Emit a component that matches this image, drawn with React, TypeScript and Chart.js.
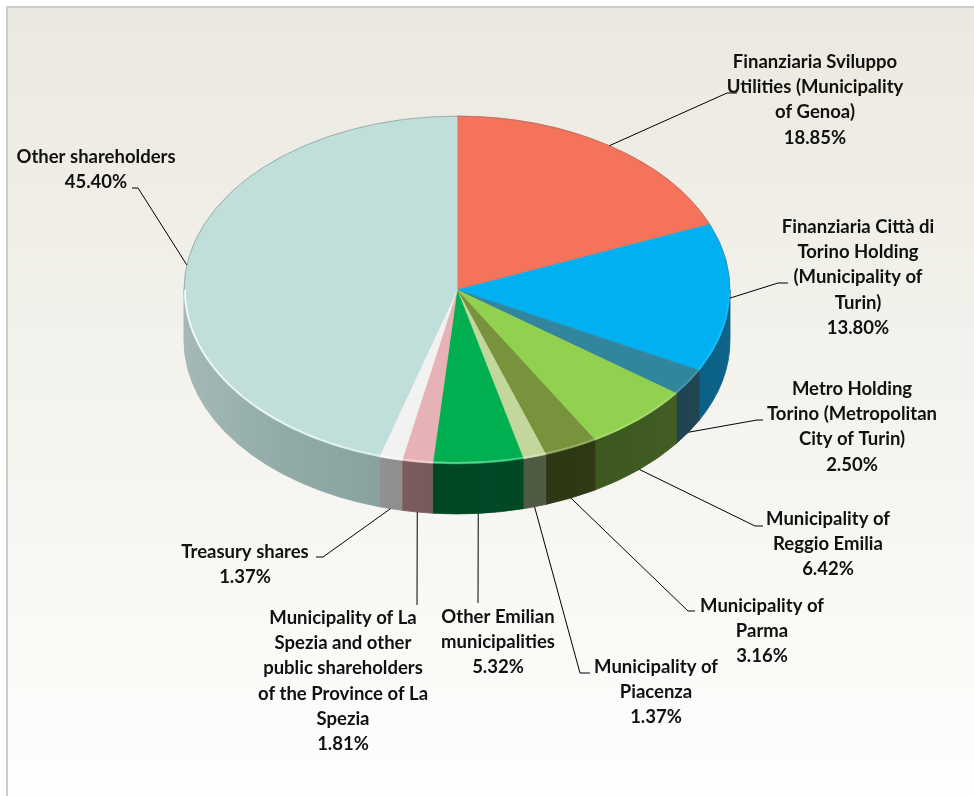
import React, { useEffect, useRef } from "react";
import { Chart, registerables } from "chart.js";

Chart.register(...registerables);

// ---------- data ----------
const categories: string[] = [
  "Finanziaria Sviluppo Utilities (Municipality of Genoa)",
  "Finanziaria Città di Torino Holding (Municipality of Turin)",
  "Metro Holding Torino (Metropolitan City of Turin)",
  "Municipality of Reggio Emilia",
  "Municipality of Parma",
  "Municipality of Piacenza",
  "Other Emilian municipalities",
  "Municipality of La Spezia and other public shareholders of the Province of La Spezia",
  "Treasury shares",
  "Other shareholders",
];

const shares: number[] = [18.85, 13.8, 2.5, 6.42, 3.16, 1.37, 5.32, 1.81, 1.37, 45.4];

// wrapped label text (as in the reference)
const labelLines: string[][] = [
  ["Finanziaria Sviluppo", "Utilities (Municipality", "of Genoa)"],
  ["Finanziaria Città di", "Torino Holding", "(Municipality of", "Turin)"],
  ["Metro Holding", "Torino (Metropolitan", "City of Turin)"],
  ["Municipality of", "Reggio Emilia"],
  ["Municipality of", "Parma"],
  ["Municipality of", "Piacenza"],
  ["Other Emilian", "municipalities"],
  ["Municipality of La", "Spezia and other", "public shareholders", "of the Province of La", "Spezia"],
  ["Treasury shares"],
  ["Other shareholders"],
];

// ---------- styles / layout ----------
const topColors = [
  "#F5735B", "#00B0F0", "#31859C", "#92D050", "#77933C",
  "#C3D69B", "#00B050", "#E6B2B6", "#F2F2F2", "#C0DFDA",
];
const sideColors = [
  "#A04A3A", "#005A82", "#183E4C", "#3E5B1F", "#2F3A16",
  "#545F46", "#004D27", "#816062", "#959595", "#8BA6A3",
];

const labelCenterX = [807, 850, 844, 820, 754, 648, 490, 335, 237, 88];
const labelFirstY = [54, 219, 381, 511, 598, 659, 609, 610, 544, 149];
const elbowX = [719, 770, 749, 747, 680, 572, 470, 409, 315, 130];
const elbowY = [85, 275, 412, 518, 603, 665, 595, 597, 549, 180];
const stubX = [729, 780, 755, 755, 687, 582, 470, 409, 308, 124];

const TILT = 0.637;
const DEPTH = 50;
const LINE_H = 25.2;
const FONT = "bold 18.5px Lato";

const pie3d = {
  id: "pie3d",
  beforeDraw(chart: any) {
    const { ctx, width, height } = chart;
    const g = ctx.createLinearGradient(0, 0, 0, height);
    g.addColorStop(0, "#EBE9DF");
    g.addColorStop(0.5, "#F4F3EE");
    g.addColorStop(1, "#FEFEFD");
    ctx.save();
    ctx.fillStyle = g;
    ctx.fillRect(0, 0, width, height);
    ctx.restore();
  },
  beforeDatasetsDraw(chart: any) {
    const ctx = chart.ctx;
    const arcs = chart.getDatasetMeta(0).data as any[];
    if (!arcs.length) return;
    const { x: cx, y: cy, outerRadius: r } = arcs[0].getProps(["x", "y", "outerRadius"], true);
    const ry = r * TILT;
    ctx.save();
    arcs.forEach((arc, i) => {
      const { startAngle, endAngle } = arc.getProps(["startAngle", "endAngle"], true);
      const a1 = Math.max(startAngle, 0);
      const a2 = Math.min(endAngle, Math.PI);
      if (a2 <= a1) return;
      ctx.beginPath();
      ctx.ellipse(cx, cy, r, ry, 0, a1, a2, false);
      ctx.ellipse(cx, cy + DEPTH, r, ry, 0, a2, a1, true);
      ctx.closePath();
      ctx.fillStyle = sideColors[i];
      ctx.fill();
      ctx.strokeStyle = sideColors[i];
      ctx.lineWidth = 0.8;
      ctx.stroke();
    });
    // lighting overlay on the side wall
    ctx.beginPath();
    ctx.ellipse(cx, cy, r, ry, 0, 0, Math.PI, false);
    ctx.ellipse(cx, cy + DEPTH, r, ry, 0, Math.PI, 0, true);
    ctx.closePath();
    const g = ctx.createLinearGradient(cx - r, 0, cx + r, 0);
    g.addColorStop(0, "rgba(255,255,255,0.22)");
    g.addColorStop(0.2, "rgba(255,255,255,0.04)");
    g.addColorStop(0.45, "rgba(0,0,0,0.08)");
    g.addColorStop(0.75, "rgba(0,0,0,0.03)");
    g.addColorStop(1, "rgba(255,255,255,0.06)");
    ctx.fillStyle = g;
    ctx.fill();
    ctx.restore();

    // flatten the pie top face into an ellipse
    ctx.save();
    ctx.translate(cx, cy);
    ctx.scale(1, TILT);
    ctx.translate(-cx, -cy);
  },
  afterDatasetsDraw(chart: any) {
    const ctx = chart.ctx;
    ctx.restore();
    const arcs = chart.getDatasetMeta(0).data as any[];
    if (!arcs.length) return;
    const { x: cx, y: cy, outerRadius: r } = arcs[0].getProps(["x", "y", "outerRadius"], true);
    const ry = r * TILT;

    ctx.save();
    // back outline
    ctx.beginPath();
    ctx.ellipse(cx, cy, r, ry, 0, Math.PI, 2 * Math.PI, false);
    ctx.strokeStyle = "rgba(110,110,110,0.45)";
    ctx.lineWidth = 1;
    ctx.stroke();
    // front rim highlight
    const rg = ctx.createLinearGradient(cx - r, 0, cx + r, 0);
    rg.addColorStop(0, "rgba(255,255,255,0.85)");
    rg.addColorStop(0.4, "rgba(255,255,255,0.45)");
    rg.addColorStop(1, "rgba(255,255,255,0.1)");
    ctx.beginPath();
    ctx.ellipse(cx, cy, r - 1, ry - 1, 0, 0.02, Math.PI, false);
    ctx.strokeStyle = rg;
    ctx.lineWidth = 1.6;
    ctx.stroke();

    // labels with leader lines
    ctx.font = FONT;
    ctx.textAlign = "center";
    ctx.textBaseline = "middle";
    arcs.forEach((arc, i) => {
      const { startAngle, endAngle } = arc.getProps(["startAngle", "endAngle"], true);
      const m = (startAngle + endAngle) / 2;
      const sx = cx + r * Math.cos(m);
      const sy = cy + ry * Math.sin(m) + (Math.sin(m) > 0.3 ? DEPTH : 0);
      ctx.beginPath();
      ctx.moveTo(sx, sy);
      ctx.lineTo(elbowX[i], elbowY[i]);
      ctx.lineTo(stubX[i], elbowY[i]);
      ctx.strokeStyle = "#000";
      ctx.lineWidth = 1;
      ctx.stroke();

      const lines = [...labelLines[i], shares[i].toFixed(2) + "%"];
      ctx.fillStyle = "#111";
      lines.forEach((t, j) => {
        ctx.fillText(t, labelCenterX[i], labelFirstY[i] + j * LINE_H);
      });
    });
    ctx.restore();
  },
};

export default function App() {
  const ref = useRef<HTMLCanvasElement | null>(null);
  useEffect(() => {
    if (!ref.current) return;
    const chart = new Chart(ref.current, {
      type: "pie",
      data: {
        labels: categories,
        datasets: [
          {
            data: shares,
            backgroundColor: topColors,
            borderColor: topColors,
            borderWidth: 1,
            radius: 273,
            clip: false as any,
          } as any,
        ],
      },
      options: {
        responsive: false,
        animation: false,
        devicePixelRatio: 1,
        layout: { padding: { left: 0, right: 68, top: 0, bottom: 224 } },
        plugins: {
          legend: { display: false },
          tooltip: { enabled: false },
        },
        events: [],
      },
      plugins: [pie3d],
    });
    return () => chart.destroy();
  }, []);

  return (
    <div
      style={{
        position: "fixed",
        left: 6,
        top: 6,
        width: 968,
        height: 790,
        borderTop: "2px solid #CDCDCD",
        borderLeft: "2px solid #CDCDCD",
        overflow: "hidden",
      }}
    >
      <canvas ref={ref} width={966} height={788} style={{ display: "block", width: 966, height: 788 }} />
    </div>
  );
}
